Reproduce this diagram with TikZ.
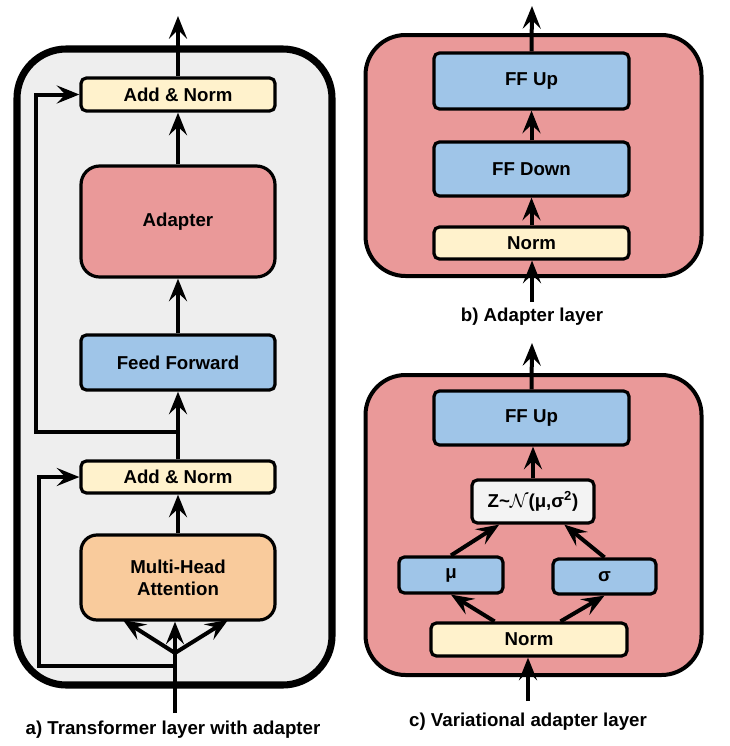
\documentclass[tikz,border=0pt]{standalone}
\usepackage{fontspec}
\setmainfont{Liberation Sans}
\usetikzlibrary{arrows.meta,calc}
\definecolor{panelgray}{HTML}{EEEEEE}
\definecolor{adred}{HTML}{EA9999}
\definecolor{ffblue}{HTML}{9FC5E8}
\definecolor{normyel}{HTML}{FFF2CC}
\definecolor{mhaor}{HTML}{F9CB9C}
\definecolor{zgray}{HTML}{F3F3F3}
\tikzset{
  box/.style={draw=black, line width=2.4pt, rounded corners=4pt, align=center,
    font=\fontsize{14}{16.5}\selectfont\bfseries, inner sep=0pt},
  conn/.style={line width=3pt, -{Stealth[length=17pt,width=13.5pt,inset=6.5pt]}},
  line/.style={line width=3pt},
  caption/.style={font=\fontsize{14}{16.5}\selectfont\bfseries},
}
\newcommand{\bw}[1]{#1*0.75pt}
\begin{document}
\begin{tikzpicture}[x=0.75pt,y=-0.75pt]
\useasboundingbox (0,0) rectangle (729,746);
% ---------- panel a ----------
\draw[line width=5.3pt, fill=panelgray, rounded corners=37pt] (17,49) rectangle (332,685);
\node[box, fill=normyel, minimum width=\bw{194}, minimum height=\bw{33}] (an2) at (178,94.5) {Add \& Norm};
\node[box, fill=adred, rounded corners=14pt, minimum width=\bw{194}, minimum height=\bw{111}] (adp) at (178,221.5) {Adapter};
\node[box, fill=ffblue, minimum width=\bw{194}, minimum height=\bw{55}] (ff) at (178,362.5) {Feed Forward};
\node[box, fill=normyel, minimum width=\bw{194}, minimum height=\bw{32}] (an1) at (178,477) {Add \& Norm};
\node[box, fill=mhaor, rounded corners=12pt, minimum width=\bw{194}, minimum height=\bw{85}] (mha) at (178,577.5) {Multi-Head\\Attention};
\coordinate (aout) at (178,16);
\coordinate (ain) at (175,713);
\coordinate (fork) at (175,653);
\coordinate (tl) at (123,620);
\coordinate (tr) at (228,620);
\coordinate (s1) at (178,432);
\coordinate (s2) at (175,666);
\coordinate (k1) at (36,432);
\coordinate (k2) at (39,666);
\draw[conn] (an2.north) -- (aout);
\draw[conn] (adp.north) -- (an2.south);
\draw[conn] (ff.north) -- (adp.south);
\draw[conn] (an1.north) -- (ff.south);
\draw[conn] (mha.north) -- (an1.south);
\draw[conn] (ain) -- (ain |- mha.south);
\draw[conn] (fork) -- (tl);
\draw[conn] (fork) -- (tr);
\draw[conn, rounded corners=0pt] (s1) -- (k1) |- (an2.west);
\draw[conn] (s2) -- (k2) |- (an1.west);
\node[caption] (capa) at (173,730) {a) Transformer layer with adapter};
% ---------- panel b ----------
\draw[line width=3pt, fill=adred, rounded corners=30pt] (365.5,35) rectangle (701.5,276);
\node[box, fill=ffblue, minimum width=\bw{195}, minimum height=\bw{56}] (bup) at (531.5,81) {FF Up};
\node[box, fill=ffblue, minimum width=\bw{195}, minimum height=\bw{54}] (bdown) at (531.5,169) {FF Down};
\node[box, fill=normyel, minimum width=\bw{195}, minimum height=\bw{32}] (bnorm) at (531.5,243) {Norm};
\coordinate (bin) at (532,302);
\coordinate (bout) at (532,6);
\draw[conn] (bin) -- (bin |- bnorm.south);
\draw[conn] (bnorm.north) -- (bdown.south);
\draw[conn] (bdown.north) -- (bup.south);
\draw[conn] (bup.north) -- (bout);
\node[caption] (capb) at (532,317) {b) Adapter layer};
% ---------- panel c ----------
\draw[line width=3pt, fill=adred, rounded corners=30pt] (365.5,375) rectangle (701.5,675);
\node[box, fill=ffblue, minimum width=\bw{195}, minimum height=\bw{54}] (cup) at (531.5,418) {FF Up};
\node[box, fill=zgray, minimum width=\bw{122}, minimum height=\bw{43}] (z) at (533,501.5) {Z\textasciitilde$\mathcal{N}$(μ,σ\textsuperscript{2})};
\node[box, fill=ffblue, minimum width=\bw{104}, minimum height=\bw{36}] (mu) at (451,575) {μ};
\node[box, fill=ffblue, minimum width=\bw{103}, minimum height=\bw{35}] (sg) at (604.5,576.5) {σ};
\node[box, fill=normyel, minimum width=\bw{196}, minimum height=\bw{33}] (cnorm) at (529,639.5) {Norm};
\coordinate (cin) at (528,701);
\coordinate (cout) at (532,343);
\draw[conn] (cin) -- (cin |- cnorm.south);
\draw[conn] ($(cnorm.north west)!0.327!(cnorm.north east)$) -- (mu.south);
\draw[conn] ($(cnorm.north west)!0.658!(cnorm.north east)$) -- (sg.south);
\draw[conn] (mu.north) -- ($(z.south west)!0.23!(z.south east)$);
\draw[conn] (sg.north) -- ($(z.south west)!0.75!(z.south east)$);
\draw[conn] (z.north) -- (z.north |- cup.south);
\draw[conn] (cup.north) -- (cout);
\node[caption] (capc) at (528,722) {c) Variational adapter layer};
\end{tikzpicture}
\end{document}
